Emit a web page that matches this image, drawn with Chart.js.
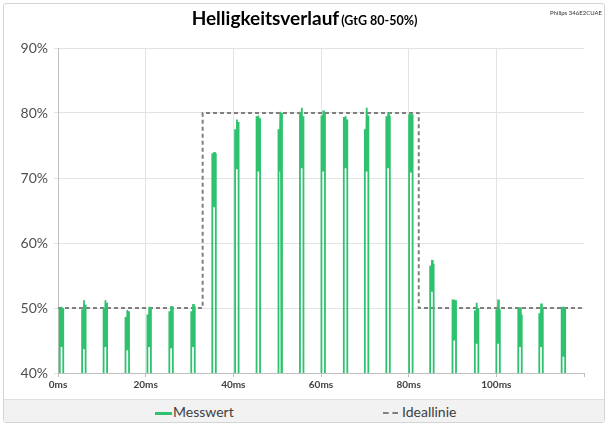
<!DOCTYPE html>
<html>
<head>
<meta charset="utf-8">
<script src="https://cdn.jsdelivr.net/npm/chart.js@4/dist/chart.umd.min.js"></script>
<style>
    body { margin: 0; background: #fff; }
    #wrap { position: relative; width: 609px; height: 427px; font-family: Lato, "Open Sans", sans-serif; }
    #frame { position: absolute; left: 3px; top: 3px; width: 600px; height: 418px; border: 1px solid #d4d4d4; border-radius: 3px; }
    #myChart { position: absolute; left: 0; top: 0; }
    #title { position: absolute; left: 0; width: 609px; top: 6px; text-align: center; font-weight: bold; font-size: 19px; color: #000; }
    #title span { font-size: 12.5px; margin-left: 2px; }
    #model { position: absolute; right: 7px; top: 9px; font-size: 6px; color: #333; }
    #legend { position: absolute; left: 4px; top: 399px; width: 600px; height: 22px; background: #f2f2f2; border-top: 1px solid #e0e0e0; font-size: 14px; color: #404040; }
    .item { position: absolute; top: 3px; }
    .swatch { display: inline-block; width: 17px; vertical-align: middle; margin-right: 1px; }
</style>
</head>
<body>
<div id="wrap">
    <div id="frame"></div>
    <canvas id="myChart" width="609" height="427"></canvas>
    <div id="title">Helligkeitsverlauf<span>(GtG 80-50%)</span></div>
    <div id="model">Philips 346E2CUAE</div>
    <div id="legend">
        <div class="item" style="left:151px"><span class="swatch" style="border-top:3px solid #2ec26f"></span>Messwert</div>
        <div class="item" style="left:379px"><span class="swatch" style="border-top:2px dashed #808080;width:15px;margin-right:4px"></span>Ideallinie</div>
    </div>
</div>
<script>
document.addEventListener('DOMContentLoaded', function () {

    // PWM-Pulse (Messwert): Start in ms, Flanken- und Spitzenwerte in %
    const pulseStart = [0.4, 5.5, 10.4, 15.4, 20.4, 25.4, 30.4, 35.2, 40.4, 45.3, 50.3, 55.2,
                        60.1, 65.2, 70.0, 74.9, 80.1, 84.9, 90.0, 95.1, 100.0, 105.0, 109.8, 114.9];
    const pulseLeft  = [50, 49.8, 50, 48.6, 49, 49.5, 49.5, 73.8, 77.5, 79.5, 77.5, 80.2,
                        79.6, 79.4, 77.5, 79.5, 79.8, 56.5, 51.3, 49.6, 49.8, 50, 49.2, 50.2];
    const pulsePeak  = [50.2, 51.2, 51.2, 49.7, 50.2, 50.3, 50.6, 74, 79, 79.6, 80.2, 80.8,
                        80.4, 79.5, 80.8, 80.1, 80, 57.4, 51.3, 50.8, 51.3, 50.1, 50.7, 50.2];
    const pulseRight = [50, 50.5, 50.8, 49.5, 50, 50.2, 50.3, 73.8, 78.6, 79.2, 80, 79.5,
                        80, 79, 79.6, 79.6, 79.8, 56.8, 51.2, 50, 49.8, 49, 50, 50];
    const pulseDip   = [44, 43.8, 44, 43.5, 44, 43.8, 44, 65.5, 71.5, 71, 71, 71.5,
                        71, 71.5, 71, 71.5, 71, 52.5, 45, 44.5, 44.5, 44, 44, 42.5];
    const pulseWidth = 0.8;    // ms
    const offLevel = 0;        // Helligkeit zwischen den Pulsen (unterhalb der Achse)

    // Ideallinie
    const idealTimes  = [0, 33, 33, 82.3, 82.3, 119.5];
    const idealValues = [50, 50, 80, 80, 50, 50];

    const xTicks = [0, 20, 40, 60, 80, 100];
    const yTicks = [40, 50, 60, 70, 80, 90];

    // Messkurve aus den Pulsen zusammensetzen
    const messwert = [];
    for (let i = 0; i < pulseStart.length; i++) {
        const t = pulseStart[i];
        messwert.push({ x: t, y: offLevel });
        messwert.push({ x: t, y: pulseLeft[i] });
        messwert.push({ x: t + pulseWidth * 0.27, y: pulseDip[i] });
        messwert.push({ x: t + pulseWidth * 0.53, y: pulsePeak[i] });
        messwert.push({ x: t + pulseWidth * 0.73, y: pulseDip[i] });
        messwert.push({ x: t + pulseWidth, y: pulseRight[i] });
        messwert.push({ x: t + pulseWidth, y: offLevel });
    }
    const ideal = idealTimes.map((t, i) => ({ x: t, y: idealValues[i] }));

    const ctx = document.getElementById('myChart').getContext('2d');
    new Chart(ctx, {
        type: 'line',
        data: {
            datasets: [
                {
                    label: 'Messwert',
                    data: messwert,
                    borderColor: '#2ec26f',
                    borderWidth: 1.8,
                    pointRadius: 0,
                    tension: 0,
                    fill: false,
                    clip: { left: 0, top: 10, right: 0, bottom: 0 },
                },
                {
                    label: 'Ideallinie',
                    data: ideal,
                    borderColor: '#7f7f7f',
                    borderWidth: 2,
                    borderDash: [4, 3],
                    pointRadius: 0,
                    tension: 0,
                    fill: false,
                },
            ],
        },
        options: {
            responsive: false,
            animation: false,
            layout: { padding: { top: 48, right: 25, bottom: 32, left: 0 } },
            plugins: {
                legend: { display: false },
                tooltip: { enabled: false },
            },
            scales: {
                x: {
                    type: 'linear',
                    min: 0,
                    max: 120,
                    afterFit: function (scale) { scale.height = 22; },
                    afterBuildTicks: function (scale) {
                        scale.ticks = xTicks.concat([120]).map(v => ({ value: v }));
                    },
                    ticks: {
                        maxRotation: 0,
                        padding: 2,
                        color: '#404040',
                        font: { family: 'Lato', size: 10, weight: 'bold' },
                        callback: function (value) { return xTicks.includes(value) ? value + 'ms' : ''; },
                    },
                    grid: {
                        color: function (c) { return c.tick && c.tick.value === 120 ? 'rgba(0,0,0,0)' : '#e3e3e3'; },
                        tickLength: 4,
                        tickColor: '#bfbfbf',
                    },
                    border: { color: '#bfbfbf' },
                },
                y: {
                    min: 40,
                    max: 90,
                    afterFit: function (scale) { scale.width = 58; },
                    afterBuildTicks: function (scale) {
                        scale.ticks = yTicks.map(v => ({ value: v }));
                    },
                    ticks: {
                        padding: 6,
                        color: '#505050',
                        font: { family: 'Lato', size: 14 },
                        callback: function (value) { return value + '%'; },
                    },
                    grid: {
                        color: '#e3e3e3',
                        tickLength: 4,
                    },
                    border: { color: '#bfbfbf' },
                },
            },
        },
    });
});
</script>
</body>
</html>
